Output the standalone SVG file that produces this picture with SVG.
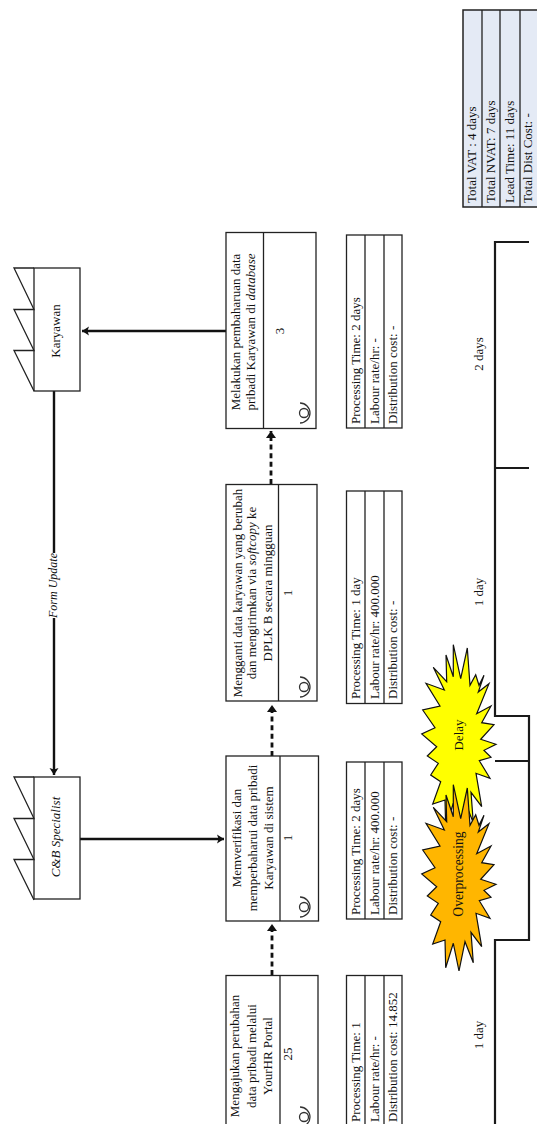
<svg xmlns="http://www.w3.org/2000/svg" width="537" height="1124" viewBox="0 0 537 1124">
<style>
text{font-family:"Liberation Serif","Times New Roman",serif;font-size:13px;fill:#111}
.c{text-anchor:middle}
.i{font-style:italic}
.box{fill:#fff;stroke:#222;stroke-width:1.3}
.ln{fill:none;stroke:#222;stroke-width:1.3}
.sum{fill:#e4eaf5;stroke:#222;stroke-width:1.5}
.solid{fill:none;stroke:#111;stroke-width:2.4}
.dash{fill:none;stroke:#111;stroke-width:2.8;stroke-dasharray:5 3.6}
.tl{fill:none;stroke:#1a1a1a;stroke-width:2.2}
.star{stroke:#111;stroke-width:1.2;stroke-linejoin:miter}
.ic{fill:none;stroke:#333;stroke-width:1.3}
</style>
<defs>
<marker id="ah" markerUnits="userSpaceOnUse" markerWidth="10" markerHeight="10" refX="7" refY="5" orient="auto"><path d="M0 0.5L7 5L0 9.5L1.6 5Z" fill="#111"/></marker>
<marker id="ad" markerUnits="userSpaceOnUse" markerWidth="10" markerHeight="10" refX="7" refY="5" orient="auto"><path d="M0 0L7 5L0 10Z" fill="#111"/></marker>
<polygon id="burst" class="star" points="43.3,14.7 50.7,48.7 57.3,18 60,55.3 65.7,44.7 69,55.3 74,45.3 68.3,62 79,53.7 66.7,83.7 81,76 71.7,92.7 84,94.7 70.7,109.3 86,114.3 74,120.3 81,127.3 69.3,130.7 80,148.3 66,143.3 71.7,176.7 61,162.3 63.3,192.7 55,171.7 49,201 43.3,173.3 35.7,197.7 35,170 22.7,174 30.7,151.7 20.7,145 28.3,133.3 17.3,126 26.7,116.7 11.7,104 25,97.7 12.7,80 30,76 16,53.3 34.3,60 23.3,37.3 36.7,51.7 36,25 43.3,46.7"/>
<g id="op"><circle cx="0" cy="0" r="4.500" class="ic"/><path class="ic" d="M-4 -10A10 10 0 0 1 -4 10"/></g>
<path id="teeth" class="ln" d="M34 0H14L34 41.500H14L34 82.500H14L34 123"/>
</defs>

<g id="connectors">
<path class="solid" d="M54 391V553M54 618V775" marker-end="url(#ah)"/>
<path class="solid" d="M80 839H224" marker-end="url(#ah)"/>
<path class="solid" d="M226 331H82" marker-end="url(#ah)"/>
<path class="dash" d="M272 975V924" marker-end="url(#ad)"/>
<path class="dash" d="M272 756V705" marker-end="url(#ad)"/>
<path class="dash" d="M271 484V431" marker-end="url(#ad)"/>
<text class="i" transform="translate(57,618) rotate(-90)" style="font-size:12px">Form Update</text>
</g>

<g id="karyawan">
<rect class="box" x="34" y="268" width="46" height="123"/>
<use href="#teeth" y="268"/>
<text class="c" transform="translate(60,331) rotate(-90)">Karyawan</text>
</g>
<g id="cb-specialist">
<rect class="box" x="34" y="777" width="46" height="122"/>
<use href="#teeth" y="777"/>
<text class="c i" transform="translate(60,837) rotate(-90)">C&amp;B Specialist</text>
</g>

<g id="process-1">
<rect class="box" x="226" y="975.500" width="92" height="160"/>
<path class="ln" d="M280 975.500V1130"/>
<text class="c" transform="translate(239,1056) rotate(-90)">Mengajukan perubahan</text>
<text class="c" transform="translate(256,1056) rotate(-90)">data pribadi melalui</text>
<text class="c" transform="translate(272,1056) rotate(-90)">YourHR Portal</text>
<text class="c" transform="translate(292,1054) rotate(-90)">25</text>
<use href="#op" x="304" y="1117"/>
</g>
<g id="process-2">
<rect class="box" x="226" y="756" width="92.500" height="165"/>
<path class="ln" d="M280 756V921"/>
<text class="c" transform="translate(241,838) rotate(-90)">Memverifikasi dan</text>
<text class="c" transform="translate(257,838) rotate(-90)">memperbaharui data pribadi</text>
<text class="c" transform="translate(273,838) rotate(-90)">Karyawan di sistem</text>
<text class="c" transform="translate(292,838) rotate(-90)">1</text>
<use href="#op" x="304" y="907"/>
</g>
<g id="process-3">
<rect class="box" x="226" y="484.500" width="91" height="216.500"/>
<path class="ln" d="M278.500 484.500V701"/>
<text class="c" transform="translate(242,593) rotate(-90)">Mengganti data karyawan yang berubah</text>
<text class="c" transform="translate(256,593) rotate(-90)">dan mengirimkan via <tspan class="i">softcopy</tspan> ke</text>
<text class="c" transform="translate(272,593) rotate(-90)">DPLK B secara mingguan</text>
<text class="c" transform="translate(292,593) rotate(-90)">1</text>
<use href="#op" x="304" y="687"/>
</g>
<g id="process-4">
<rect class="box" x="226" y="232.500" width="90" height="196"/>
<path class="ln" d="M263.500 232.500V428.500"/>
<text class="c" transform="translate(240,332) rotate(-90)">Melakukan pembaharuan data</text>
<text class="c" transform="translate(255,332) rotate(-90)">pribadi Karyawan di <tspan class="i">database</tspan></text>
<text class="c" transform="translate(284,331) rotate(-90)">3</text>
<use href="#op" x="304" y="413"/>
</g>

<g id="data-1">
<rect class="box" x="346.500" y="975.500" width="55.500" height="160"/>
<path class="ln" d="M365 975.500V1130M384 975.500V1130"/>
<text transform="translate(360,1122) rotate(-90)">Processing Time: 1</text>
<text transform="translate(379,1122) rotate(-90)">Labour rate/hr: -</text>
<text transform="translate(397,1122) rotate(-90)">Distribution cost: 14.852</text>
</g>
<g id="data-2">
<rect class="box" x="346.500" y="762" width="55.500" height="157"/>
<path class="ln" d="M365 762V919M384 762V919"/>
<text transform="translate(360,915) rotate(-90)">Processing Time: 2 days</text>
<text transform="translate(379,915) rotate(-90)">Labour rate/hr: 400.000</text>
<text transform="translate(397,915) rotate(-90)">Distribution cost: -</text>
</g>
<g id="data-3">
<rect class="box" x="346.500" y="491" width="55.500" height="212.500"/>
<path class="ln" d="M365 491V703.500M384 491V703.500"/>
<text transform="translate(360,699) rotate(-90)">Processing Time: 1 day</text>
<text transform="translate(379,699) rotate(-90)">Labour rate/hr: 400.000</text>
<text transform="translate(397,699) rotate(-90)">Distribution cost: -</text>
</g>
<g id="data-4">
<rect class="box" x="346.500" y="235" width="55.500" height="193"/>
<path class="ln" d="M365 235V428M384 235V428"/>
<text transform="translate(360,424) rotate(-90)">Processing Time: 2 days</text>
<text transform="translate(379,424) rotate(-90)">Labour rate/hr: -</text>
<text transform="translate(397,424) rotate(-90)">Distribution cost: -</text>
</g>

<g id="summary">
<rect class="sum" x="463" y="10" width="80" height="197"/>
<path class="ln" d="M482 10V207M500 10V207M520 10V207"/>
<text transform="translate(476,203) rotate(-90)">Total VAT : 4 days</text>
<text transform="translate(495,203) rotate(-90)">Total NVAT: 7 days</text>
<text transform="translate(514,203) rotate(-90)">Lead Time: 11 days</text>
<text transform="translate(532,203) rotate(-90)">Total Dist Cost: -</text>
</g>

<g id="timeline">
<path class="tl" d="M529 242H495V716H529V761H495M529 761V940H495V1130M495 468H529"/>
<text class="c" transform="translate(483,354) rotate(-90)">2 days</text>
<text class="c" transform="translate(483,592) rotate(-90)">1 day</text>
<text class="c" transform="translate(483,1035) rotate(-90)">1 day</text>
</g>

<g id="delay">
<use href="#burst" x="410" y="630" fill="#ffff00"/>
<text class="c" transform="translate(463,735) rotate(-90)">Delay</text>
</g>
<g id="overprocessing">
<use href="#burst" x="410" y="770" fill="#ffb600"/>
<text class="c" transform="translate(463,874) rotate(-90)" style="font-size:13.600px">Overprocessing</text>
</g>
</svg>
